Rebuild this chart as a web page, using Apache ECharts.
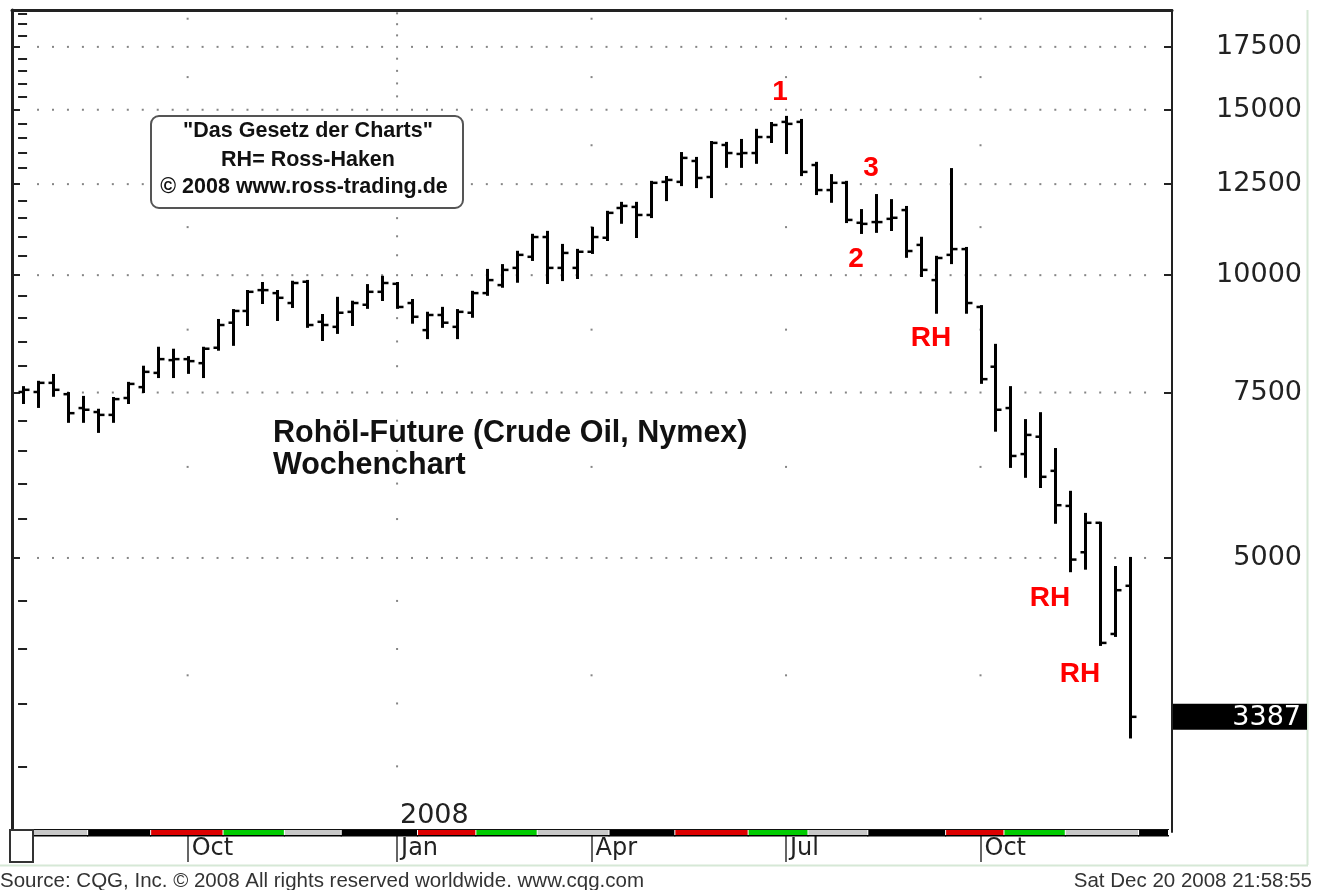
<!DOCTYPE html>
<html>
<head>
<meta charset="utf-8">
<script src="https://cdn.jsdelivr.net/npm/echarts@6/dist/echarts.min.js"></script>
<style>
html,body{margin:0;padding:0;background:#fff;}
#c{width:1322px;height:890px;}
</style>
</head>
<body>
<div id="c"></div>
<script>
// ---------- data ----------
const firstWeek = '2007-07-16';
const open  = [7510,7510,7680,7470,7220,7150,7100,7400,7600,7870, 8120,8140,8060,8370,8900,9160,9640,9570,9340,9840,
               8920,8810,9140,9300,9600,9790,9340,8740,9070,8810, 9120,9570,9760,10180,10460,10980,10180,10180,10590,10960,
               11790,11820,11590,12570,12570,13230,12720,13760,13460,13490, 14030,14560,14560,13100,12320,12540,11370,11390,11480,11730,
               10770,9880,10510,10660,9250,7990,7220,6450,6730,6190, 5680,5070,5450,4150,4670];
const high  = [7600,7700,7830,7490,7420,7190,7400,7680,7990,8370, 8330,8180,8370,8960,9180,9620,9810,9620,9840,9860,
               9070,9460,9370,9760,9960,9810,9410,9120,9230,9180, 9600,10130,10250,10590,11040,11120,10770,10640,11230,11680,
               11940,11940,12570,12720,13490,13330,13860,13830,13930,14280, 14520,14740,14630,13170,12780,12570,11730,12170,12020,11820,
               10960,10460,12970,10690,9270,8430,7600,7010,7130,6530, 5880,5570,5450,4890,5000];
const low   = [7310,7240,7440,6980,6980,6810,6980,7310,7510,7790, 7790,7870,7790,8330,8430,8850,9340,8960,9250,8810,
               8530,8680,8850,9230,9410,9230,8900,8570,8810,8570, 9030,9530,9720,9840,10380,9810,9880,9930,10560,10900,
               11370,10980,11530,12020,12470,12410,12110,13040,13040,13170, 13860,13490,12780,12200,11970,11390,11090,11120,11170,10460,
               9980,9120,10300,9120,7680,6830,6250,6100,5950,5450, 4840,4870,4040,4130,3220];
const close = [7550,7680,7550,7130,7190,7100,7380,7660,7890,8140, 8140,8100,8350,8850,9160,9600,9640,9460,9810,8850,
               8850,9120,9340,9600,9810,9250,9030,9070,8900,9140, 9570,9880,10130,10510,10980,10180,10560,10590,10980,11650,
               11850,11590,12540,12630,13330,12690,13830,13490,13490,14030, 14450,14490,12880,12320,12540,11450,11340,11390,11510,10610,
               10130,10430,10660,9340,7750,7190,6420,6760,6100,5690, 4980,5450,4060,4620,3387];
const lastPrice = 3387;

const priceLabels = [5000, 7500, 10000, 12500, 15000, 17500];
const minorTicks = [3000,3500,4000,4500,5500,6000,6500,7000,8000,8500,9000,9500,10500,11000,11500,12000,
                    13000,13500,14000,14500,15500,16000,16500,17000,18000,18500,19000];
const gridMidValues = [3750, 6250, 8750, 11250, 13750, 16250, 18750];
const monthTickIdx = [11, 25, 38, 51, 64];
const monthTickLabels = ['Oct', 'Jan', 'Apr', 'Jul', 'Oct'];
const yearTickIdx = 25;
const yearLabel = '2008';
// contract strip (bar-index boundaries) and colours
const stripBounds = [0.67, 4.35, 8.56, 13.4, 17.5, 21.3, 26.4, 30.3, 34.4, 39.2, 43.6, 48.5, 52.5, 56.5, 61.7, 65.6, 69.7, 74.6, 76.6];
const stripColors = ['#c8c8c8','#000000','#dd0000','#00cc00','#c8c8c8','#000000','#dd0000','#00cc00','#c8c8c8',
                     '#000000','#dd0000','#00cc00','#c8c8c8','#000000','#dd0000','#00cc00','#c8c8c8','#000000'];

// week categories
const weeks = [];
{ const d0 = new Date(firstWeek + 'T00:00:00Z');
  for (let i = 0; i < close.length; i++) {
    const d = new Date(d0.getTime() + i * 7 * 86400000);
    weeks.push(d.toISOString().slice(0, 10));
  } }

// ---------- chart ----------
const chart = echarts.init(document.getElementById('c'), null, { renderer: 'canvas' });
const Y_MIN = 2554, Y_MAX = 19155;
const X_MIN = -0.74, X_MAX = 76.8;
const FONT_AX = 'DejaVu Sans';

function logAxis(position, tickVals, tickLen, lineOpts, labelOpts) {
  return {
    type: 'log', logBase: 10, min: Y_MIN, max: Y_MAX, position: position,
    axisLine: lineOpts ? { show: true, onZero: false, lineStyle: lineOpts } : { show: false },
    axisTick: { show: true, inside: true, length: tickLen, customValues: tickVals, lineStyle: { color: '#222', width: 2 } },
    axisLabel: labelOpts || { show: false },
    splitLine: { show: false }, minorTick: { show: false }, minorSplitLine: { show: false }
  };
}

const hDots = [];
for (const v of priceLabels) for (let p = 1; p <= 75; p++) hDots.push([p, v]);
const vDots = [];
for (const p of monthTickIdx) {
  const vals = (p === yearTickIdx) ? minorTicks : gridMidValues;
  for (const v of vals) vDots.push([p, v]);
}

const option = {
  animation: false,
  backgroundColor: '#fff',
  grid: { left: 12, right: 150, top: 10, bottom: 58 },
  xAxis: [
    {
      type: 'value', min: X_MIN, max: X_MAX, position: 'bottom',
      axisLine: { show: false }, splitLine: { show: false },
      axisTick: { show: true, customValues: monthTickIdx, length: 30, lineStyle: { color: '#333', width: 1.5 } },
      axisLabel: {
        show: true, customValues: monthTickIdx,
        formatter: v => monthTickLabels[monthTickIdx.indexOf(Math.round(v))] || '',
        align: 'left', margin: 5, padding: [0, 0, 0, 4],
        fontSize: 24, fontFamily: FONT_AX, color: '#222'
      }
    },
    {
      type: 'value', min: X_MIN, max: X_MAX, position: 'top',
      axisLine: { show: true, onZero: false, lineStyle: { color: '#222', width: 3 } },
      axisTick: { show: false }, axisLabel: { show: false }, splitLine: { show: false }
    }
  ],
  yAxis: [
    logAxis('left', priceLabels, 8, { color: '#222', width: 3 }, null),
    logAxis('left', minorTicks, 4, null, null),
    logAxis('right', priceLabels, 8, { color: '#222', width: 2 }, {
      show: true, customValues: priceLabels, formatter: v => String(Math.round(v)),
      align: 'right', margin: 130, fontSize: 27, fontFamily: FONT_AX, color: '#222'
    }),
    logAxis('right', minorTicks, 5, null, null)
  ],
  series: [
    { type: 'scatter', name: 'hgrid', data: hDots, symbol: 'rect', symbolSize: 2, silent: true,
      itemStyle: { color: '#666' }, z: 1 },
    { type: 'scatter', name: 'vgrid', data: vDots, symbol: 'rect', symbolSize: 2, silent: true,
      itemStyle: { color: '#666' }, z: 1 },
    {
      type: 'custom', name: 'Crude Oil', z: 5,
      data: weeks.map((w, i) => [i, open[i], high[i], low[i], close[i], w]),
      encode: { x: 0, y: [1, 2, 3, 4] },
      renderItem: function (params, api) {
        const i = api.value(0);
        const o = api.coord([i, api.value(1)]);
        const h = api.coord([i, api.value(2)]);
        const l = api.coord([i, api.value(3)]);
        const c = api.coord([i, api.value(4)]);
        const x = Math.round(h[0]) + 0.5;
        return { type: 'group', children: [
          { type: 'line', shape: { x1: x, y1: h[1] - 1, x2: x, y2: l[1] + 1 }, style: { stroke: '#000', lineWidth: 3 } },
          { type: 'line', shape: { x1: x - 5, y1: o[1], x2: x, y2: o[1] }, style: { stroke: '#000', lineWidth: 2.5 } },
          { type: 'line', shape: { x1: x, y1: c[1], x2: x + 6, y2: c[1] }, style: { stroke: '#000', lineWidth: 2.5 } }
        ] };
      }
    },
    {
      type: 'custom', name: 'strip', z: 6, silent: true,
      data: stripColors.map((col, k) => [stripBounds[k], stripBounds[k + 1], 5000]),
      encode: { x: [0, 1], y: 2 },
      renderItem: function (params, api) {
        const cs = params.coordSys;
        const a = api.coord([api.value(0), 5000]);
        const b = api.coord([api.value(1), 5000]);
        const yb = cs.y + cs.height;
        return { type: 'group', children: [
          { type: 'rect', shape: { x: a[0], y: yb - 2, width: b[0] - a[0] - 1, height: 5 },
            style: { fill: stripColors[params.dataIndex] } },
          { type: 'rect', shape: { x: a[0] - 1, y: yb + 3, width: b[0] - a[0] + 1, height: 1.5 },
            style: { fill: '#000' } },
          { type: 'rect', shape: { x: a[0] - 1, y: yb - 3, width: b[0] - a[0] + 1, height: 1 },
            style: { fill: '#111' } }
        ] };
      }
    },
    {
      type: 'custom', name: 'last', z: 7, silent: true,
      data: [[X_MAX, lastPrice]],
      encode: { x: 0, y: 1 },
      renderItem: function (params, api) {
        const cs = params.coordSys;
        const p = api.coord([api.value(0), api.value(1)]);
        const x0 = cs.x + cs.width;
        return { type: 'group', children: [
          { type: 'rect', shape: { x: x0 + 1, y: p[1] - 13, width: 134, height: 26 }, style: { fill: '#000' } },
          { type: 'text', x: x0 + 129, y: p[1] + 1,
            style: { text: String(lastPrice), fill: '#fff', font: '27px "DejaVu Sans"', align: 'right', verticalAlign: 'middle' } }
        ] };
      }
    }
  ],
  graphic: [
    { type: 'line', shape: { x1: 1307.5, y1: 10, x2: 1307.5, y2: 865 }, style: { stroke: '#d6e8d6', lineWidth: 2 }, z: 0 },
    { type: 'line', shape: { x1: 0, y1: 865.5, x2: 1308, y2: 865.5 }, style: { stroke: '#d6e8d6', lineWidth: 2 }, z: 0 },
    { type: 'rect', shape: { x: 10, y: 830, width: 23, height: 32 }, style: { fill: '#fff', stroke: '#333', lineWidth: 2 }, z: 10 },
    { type: 'rect', shape: { x: 151, y: 116, width: 312, height: 92, r: 8 }, style: { fill: '#fff', stroke: '#555', lineWidth: 2 }, z: 20 },
    { type: 'text', x: 308, y: 131, style: { text: '"Das Gesetz der Charts"', font: 'bold 21.5px "Liberation Sans"', fill: '#111', align: 'center', verticalAlign: 'middle' }, z: 21 },
    { type: 'text', x: 308, y: 160, style: { text: 'RH= Ross-Haken', font: 'bold 21.5px "Liberation Sans"', fill: '#111', align: 'center', verticalAlign: 'middle' }, z: 21 },
    { type: 'text', x: 304, y: 187, style: { text: '© 2008 www.ross-trading.de', font: 'bold 21.5px "Liberation Sans"', fill: '#111', align: 'center', verticalAlign: 'middle' }, z: 21 },
    { type: 'text', x: 273, y: 434, style: { text: 'Rohöl-Future (Crude Oil, Nymex)', font: 'bold 30.5px "Liberation Sans"', fill: '#111', align: 'left', verticalAlign: 'middle' }, z: 21 },
    { type: 'text', x: 273, y: 466, style: { text: 'Wochenchart', font: 'bold 30.5px "Liberation Sans"', fill: '#111', align: 'left', verticalAlign: 'middle' }, z: 21 },
    { type: 'text', x: 780, y: 92, style: { text: '1', font: 'bold 28px "Liberation Sans"', fill: '#ff0000', align: 'center', verticalAlign: 'middle' }, z: 21 },
    { type: 'text', x: 871, y: 168, style: { text: '3', font: 'bold 28px "Liberation Sans"', fill: '#ff0000', align: 'center', verticalAlign: 'middle' }, z: 21 },
    { type: 'text', x: 856, y: 259, style: { text: '2', font: 'bold 28px "Liberation Sans"', fill: '#ff0000', align: 'center', verticalAlign: 'middle' }, z: 21 },
    { type: 'text', x: 931, y: 338, style: { text: 'RH', font: 'bold 28px "Liberation Sans"', fill: '#ff0000', align: 'center', verticalAlign: 'middle' }, z: 21 },
    { type: 'text', x: 1050, y: 598, style: { text: 'RH', font: 'bold 28px "Liberation Sans"', fill: '#ff0000', align: 'center', verticalAlign: 'middle' }, z: 21 },
    { type: 'text', x: 1080, y: 674, style: { text: 'RH', font: 'bold 28px "Liberation Sans"', fill: '#ff0000', align: 'center', verticalAlign: 'middle' }, z: 21 },
    { type: 'text', x: 400, y: 816, style: { text: yearLabel, font: '27px "DejaVu Sans"', fill: '#222', align: 'left', verticalAlign: 'middle' }, z: 21 },
    { type: 'text', x: 0, y: 881, style: { text: 'Source: CQG, Inc. © 2008 All rights reserved worldwide. www.cqg.com', font: '20.5px "Liberation Sans"', fill: '#333', align: 'left', verticalAlign: 'middle' }, z: 21 },
    { type: 'text', x: 1312, y: 881, style: { text: 'Sat Dec 20 2008 21:58:55', font: '20.5px "Liberation Sans"', fill: '#333', align: 'right', verticalAlign: 'middle' }, z: 21 }
  ]
};
chart.setOption(option);
</script>
</body>
</html>
